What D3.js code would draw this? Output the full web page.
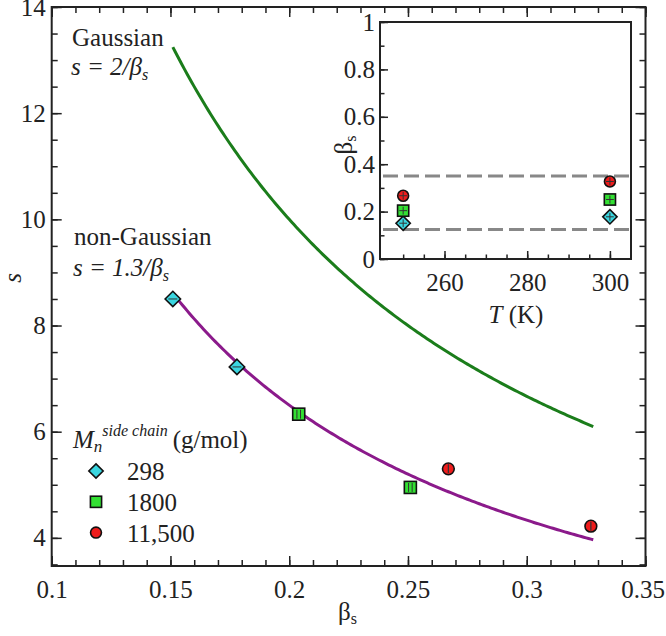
<!DOCTYPE html>
<html><head><meta charset="utf-8">
<script src="https://cdn.jsdelivr.net/npm/d3@7"></script>
<style>
html,body{margin:0;padding:0;background:#fff;}
svg{display:block;}
</style></head>
<body>
<svg id="c" width="666" height="636"></svg>
<script>
// ---- data ----
const seriesNames = ["298", "1800", "11,500"];
const seriesColors = ["#3ad6e0", "#33e033", "#ee1c1c"];
const seriesShapes = ["diamond", "square", "circle"];
const beta298 = [0.151, 0.178];
const s298 = [8.50, 7.22];
const beta1800 = [0.204, 0.251];
const s1800 = [6.33, 4.95];
const beta11500 = [0.267, 0.327];
const s11500 = [5.30, 4.22];
const temps = [250, 300];
const insetBeta298 = [0.151, 0.178];
const insetBeta1800 = [0.204, 0.251];
const insetBeta11500 = [0.267, 0.327];
const fitCoeffs = [2, 1.3];          // s = c / beta
const fitColors = ["#1b7d1b", "#8b1a8b"];
const fitBetaRange = [0.151, 0.328];
const dashLevels = [0.125, 0.35];
const mainXTicks = [0.1, 0.15, 0.2, 0.25, 0.3, 0.35];
const mainYTicks = [4, 6, 8, 10, 12, 14];
const insetXTicks = [260, 280, 300];
const insetYTicks = [0, 0.2, 0.4, 0.6, 0.8, 1];
const insetYTickLabels = ["0", "0.2", "0.4", "0.6", "0.8", "1"];

const svg = d3.select("#c");
const FS = 25;
const SERIF = '"Liberation Serif", "Times New Roman", serif';

// ---- main scales ----
const x = d3.scaleLinear().domain([0.1, 0.35]).range([51.7, 645.5]);
const y = d3.scaleLinear().domain([3.47, 14]).range([566, 7]);
const main = svg.append("g");

function styleLabels(a) {
  a.attr("font-family", SERIF);
  a.selectAll("text").attr("font-size", FS).attr("font-family", SERIF).attr("fill", "#222");
}

function axes(g, xs, ys, opts) {
  const [x0, x1] = xs.range(), [y0, y1] = ys.range();
  g.append("g").attr("transform", `translate(0,${y0})`)
    .call(d3.axisBottom(xs).tickValues(opts.xMinor).tickSize(-opts.minor).tickFormat(""));
  g.append("g").attr("class", "xlab").attr("transform", `translate(0,${y0})`)
    .call(d3.axisBottom(xs).tickValues(opts.xMajor).tickSize(-opts.major).tickPadding(14).tickFormat(opts.xFmt))
    .call(styleLabels);
  g.append("g").attr("transform", `translate(${x0},0)`)
    .call(d3.axisLeft(ys).tickValues(opts.yMinor).tickSize(-opts.minor).tickFormat(""));
  g.append("g").attr("transform", `translate(${x0},0)`)
    .call(d3.axisLeft(ys).tickValues(opts.yMajor).tickSize(-opts.major).tickPadding(opts.yPad).tickFormat(opts.yFmt))
    .call(styleLabels);
  if (opts.mirror) {
    g.append("g").attr("transform", `translate(0,${y1})`)
      .call(d3.axisTop(xs).tickValues(opts.xMinor).tickSize(-opts.minor).tickFormat(""));
    g.append("g").attr("transform", `translate(0,${y1})`)
      .call(d3.axisTop(xs).tickValues(opts.xMajor).tickSize(-opts.major).tickFormat(""));
    g.append("g").attr("transform", `translate(${x1},0)`)
      .call(d3.axisRight(ys).tickValues(opts.yMinor).tickSize(-opts.minor).tickFormat(""));
    g.append("g").attr("transform", `translate(${x1},0)`)
      .call(d3.axisRight(ys).tickValues(opts.yMajor).tickSize(-opts.major).tickFormat(""));
  }
  g.selectAll(".domain").remove();
  g.selectAll(".tick line").attr("stroke", "#222").attr("stroke-width", 1.5);
  g.append("rect").attr("x", x0).attr("y", y1).attr("width", x1 - x0).attr("height", y0 - y1)
    .attr("fill", "none").attr("stroke", "#222").attr("stroke-width", 2);
}

axes(main, x, y, {
  xMinor: d3.range(0.1, 0.3501, 0.01), xMajor: mainXTicks,
  yMinor: d3.range(3.5, 14.01, 0.5), yMajor: mainYTicks,
  minor: 6, major: 10, yPad: 6, mirror: true,
  xFmt: d3.format(""), yFmt: d3.format("d")
});
// keep the last bottom label inside the page
main.select(".xlab").selectAll(".tick text").filter((d, i, n) => i === n.length - 1).attr("dx", -3);

// fitted curves
fitCoeffs.forEach((c, i) => {
  const pts = d3.range(fitBetaRange[0], fitBetaRange[1] + 1e-9, 0.001).map(b => [b, c / b]);
  main.append("path").datum(pts)
    .attr("d", d3.line().x(d => x(d[0])).y(d => y(d[1])))
    .attr("fill", "none").attr("stroke", fitColors[i]).attr("stroke-width", 3);
});

function marker(g, shape, cx, cy, color, size, inner) {
  let el;
  if (shape === "diamond") {
    const r = size * 0.55;
    el = g.append("path").attr("d", `M${cx},${cy - r}L${cx + r},${cy}L${cx},${cy + r}L${cx - r},${cy}Z`);
  } else if (shape === "square") {
    const h = size * 0.43;
    el = g.append("rect").attr("x", cx - h).attr("y", cy - h).attr("width", 2 * h).attr("height", 2 * h);
  } else {
    el = g.append("circle").attr("cx", cx).attr("cy", cy).attr("r", size * 0.42);
  }
  el.attr("fill", color).attr("stroke", "#111").attr("stroke-width", 1.6);
  if (inner === "main") {
    const L = size * 0.32;
    if (shape === "diamond") {
      g.append("line").attr("x1", cx - L).attr("x2", cx + L).attr("y1", cy).attr("y2", cy).attr("stroke", "#333").attr("stroke-width", 1);
    } else if (shape === "square") {
      [-1.8, 1.8].forEach(o => g.append("line").attr("x1", cx + o).attr("x2", cx + o).attr("y1", cy - L).attr("y2", cy + L).attr("stroke", "#333").attr("stroke-width", 1));
    } else {
      g.append("line").attr("x1", cx).attr("x2", cx).attr("y1", cy - L).attr("y2", cy + L).attr("stroke", "#333").attr("stroke-width", 1.2);
    }
  } else if (inner === "cross") {
    const L = size * 0.3;
    g.append("line").attr("x1", cx - L).attr("x2", cx + L).attr("y1", cy).attr("y2", cy).attr("stroke", "#333").attr("stroke-width", 1);
    g.append("line").attr("x1", cx).attr("x2", cx).attr("y1", cy - L).attr("y2", cy + L).attr("stroke", "#333").attr("stroke-width", 1);
  }
}

const mainSeries = [[beta298, s298], [beta1800, s1800], [beta11500, s11500]];
mainSeries.forEach(([bs, ss], i) => {
  bs.forEach((b, j) => marker(main, seriesShapes[i], x(b), y(ss[j]), seriesColors[i], 14, "main"));
});

function txt(g, px, py) {
  return g.append("text").attr("x", px).attr("y", py).attr("font-size", FS).attr("font-family", SERIF).attr("fill", "#222");
}

// annotations
function formula(g, px, py, coef) {
  const t = txt(g, px, py).attr("font-style", "italic");
  t.append("tspan").text(`s = ${coef}/β`);
  t.append("tspan").attr("font-size", 16).attr("dy", 5).text("s");
}
txt(main, 72, 46).text("Gaussian");
formula(main, 71, 75, "2");
txt(main, 74, 245).text("non-Gaussian");
formula(main, 73, 276, "1.3");

// axis labels
txt(main, 0, 0).attr("transform", "translate(21,278) rotate(-90)").attr("text-anchor", "middle")
  .attr("font-style", "italic").text("s");
const xl = txt(main, 338, 620);
xl.append("tspan").text("β");
xl.append("tspan").attr("font-size", 16).attr("dy", 4).text("s");

// legend
const lt = txt(main, 73, 448);
lt.append("tspan").attr("font-style", "italic").text("M");
lt.append("tspan").attr("font-style", "italic").attr("font-size", 17).attr("dy", 4).text("n");
lt.append("tspan").attr("font-style", "italic").attr("font-size", 16).attr("dy", -16).text("side chain");
lt.append("tspan").attr("dy", 12).attr("dx", 5).text("(g/mol)");
seriesNames.forEach((n, i) => {
  const cy = 471 + i * 30.8;
  marker(main, seriesShapes[i], 96, cy, seriesColors[i], 13, null);
  txt(main, 127, cy + 9).text(n);
});

// ---- inset ----
const ix = d3.scaleLinear().domain([244.4, 305.1]).range([380, 631]);
const iy = d3.scaleLinear().domain([0, 1]).range([259, 22]);
const inset = svg.append("g");
inset.append("rect").attr("x", 380).attr("y", 22).attr("width", 251).attr("height", 237).attr("fill", "#fff");
dashLevels.forEach(v => {
  inset.append("line").attr("x1", ix.range()[0] + 3).attr("x2", ix.range()[1]).attr("y1", iy(v)).attr("y2", iy(v))
    .attr("stroke", "#888").attr("stroke-width", 3).attr("stroke-dasharray", "15,6");
});
axes(inset, ix, iy, {
  xMinor: d3.range(250, 301, 5), xMajor: insetXTicks,
  yMinor: d3.range(0, 1.001, 0.1), yMajor: insetYTicks,
  minor: 4.5, major: 8, yPad: 5, mirror: false,
  xFmt: d3.format("d"), yFmt: (d, i) => insetYTickLabels[i]
});
const insetSeries = [insetBeta298, insetBeta1800, insetBeta11500];
insetSeries.forEach((vals, i) => {
  vals.forEach((v, j) => marker(inset, seriesShapes[i], ix(temps[j]), iy(v), seriesColors[i], 13, "cross"));
});
const itl = txt(inset, 516, 323).attr("text-anchor", "middle");
itl.append("tspan").attr("font-style", "italic").text("T");
itl.append("tspan").text(" (K)");
const iyl = txt(inset, 0, 0).attr("transform", "translate(352,145) rotate(-90)").attr("text-anchor", "middle");
iyl.append("tspan").text("β");
iyl.append("tspan").attr("font-size", 16).attr("dy", 4).text("s");
</script>
</body></html>
